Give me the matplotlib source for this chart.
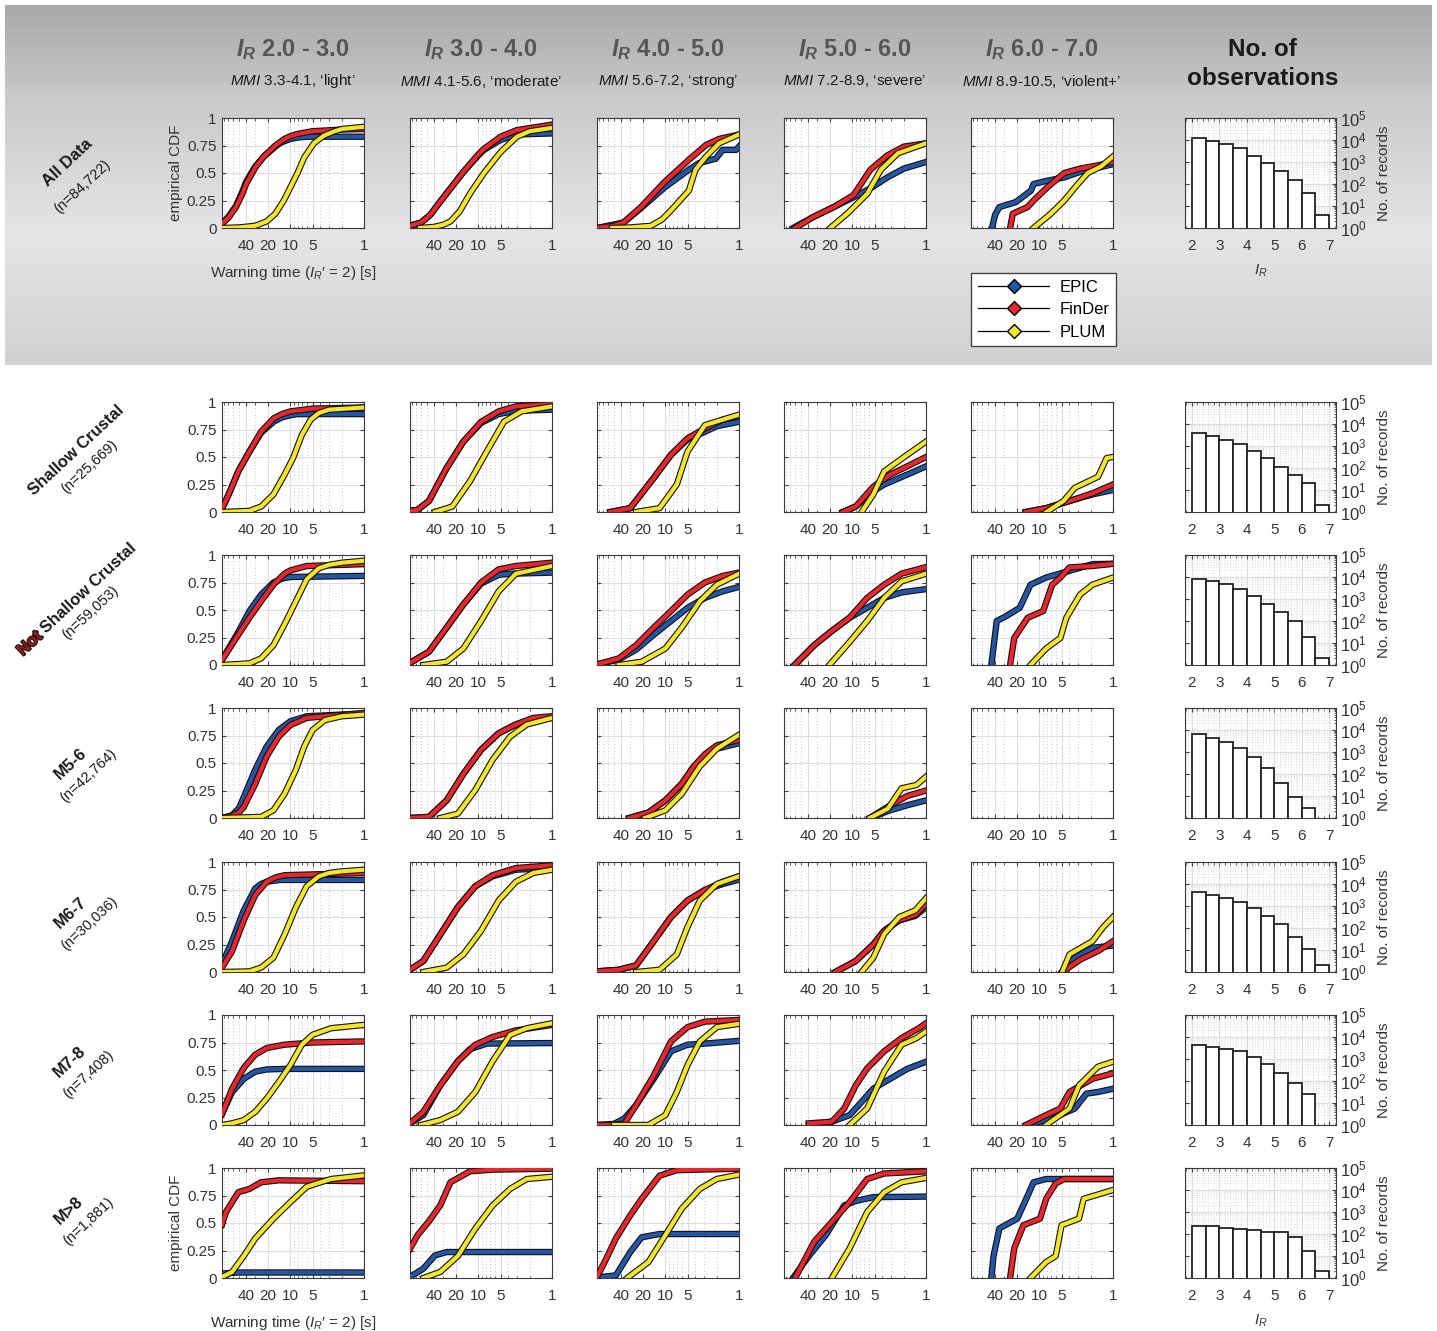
import numpy as np
import matplotlib
matplotlib.use("Agg")
import matplotlib.pyplot as plt
import matplotlib.patheffects as pe
from matplotlib.lines import Line2D
from matplotlib.ticker import LogLocator, NullFormatter, MultipleLocator, FixedLocator

plt.rcParams['font.family'] = ['Liberation Sans', 'DejaVu Sans']
plt.rcParams['mathtext.fontset'] = 'custom'
plt.rcParams['mathtext.rm'] = 'Liberation Sans'
plt.rcParams['mathtext.it'] = 'Liberation Sans:italic'
plt.rcParams['mathtext.bf'] = 'Liberation Sans:bold'
plt.rcParams['mathtext.bfit'] = 'Liberation Sans:italic:bold'

W, H = 1437, 1331

# ---------------- data (warning time [s], empirical CDF) ----------------
col_titles = ['2.0 - 3.0', '3.0 - 4.0', '4.0 - 5.0', '5.0 - 6.0', '6.0 - 7.0']
col_mmi = ['3.3-4.1, \u2018light\u2019', '4.1-5.6, \u2018moderate\u2019', '5.6-7.2, \u2018strong\u2019',
           '7.2-8.9, \u2018severe\u2019', '8.9-10.5, \u2018violent+\u2019']
model_names = ['EPIC', 'FinDer', 'PLUM']
model_colors = ['#2456a6', '#e8262b', '#f3e52b']

row_names = ['All Data', 'Shallow Crustal', 'Not Shallow Crustal', 'M5-6', 'M6-7', 'M7-8', 'M>8']
row_counts = ['(n=84,722)', '(n=25,669)', '(n=59,053)', '(n=42,764)', '(n=30,036)', '(n=7,408)', '(n=1,881)']

all_epic = [
    ([85, 70, 55, 45, 40, 30, 23, 16, 14, 12, 10, 8, 6, 1],
     [0.04, 0.1, 0.2, 0.33, 0.42, 0.56, 0.65, 0.74, 0.77, 0.79, 0.81, 0.822, 0.83, 0.83]),
    ([85, 60, 45, 33, 16, 10, 8.4, 6, 5, 3, 1], [0.02, 0.05, 0.12, 0.24, 0.51, 0.66, 0.71, 0.77, 0.8, 0.85, 0.86]),
    ([85, 37, 21.5, 10.2, 4.8, 3.5, 2.07, 1.67, 1.1, 1], [0, 0.05, 0.18, 0.37, 0.53, 0.59, 0.63, 0.71, 0.71, 0.74]),
    ([64, 34, 18, 9.6, 5.7, 3.35, 2, 1], [0, 0.1, 0.19, 0.28, 0.36, 0.46, 0.54, 0.6]),
    ([44, 40, 35, 21, 13, 12, 7.8, 4.6, 2.8, 1], [0, 0.12, 0.19, 0.235, 0.34, 0.4, 0.43, 0.46, 0.51, 0.58]),
]
all_finder = [
    ([85, 70, 55, 45, 40, 30, 23, 16, 12, 10, 8, 5, 2, 1],
     [0.04, 0.09, 0.19, 0.31, 0.4, 0.55, 0.65, 0.75, 0.81, 0.835, 0.855, 0.88, 0.895, 0.9]),
    ([85, 60, 45, 33, 16, 10, 8.4, 6, 5, 3, 1], [0.02, 0.05, 0.12, 0.24, 0.51, 0.67, 0.72, 0.79, 0.83, 0.89, 0.94]),
    ([85, 50, 37, 21.5, 10.2, 4.8, 2.8, 1.86, 1], [0, 0.02, 0.05, 0.19, 0.42, 0.62, 0.755, 0.81, 0.85]),
    ([60, 34, 18, 9.6, 5.7, 3.35, 2, 1], [0, 0.1, 0.19, 0.3, 0.53, 0.66, 0.74, 0.77]),
    ([25, 23, 14.5, 12, 7.8, 4.6, 2.8, 1.6, 1], [0, 0.13, 0.19, 0.25, 0.37, 0.5, 0.54, 0.57, 0.6]),
]
all_plum = [
    ([85, 50, 30, 21, 16, 12.3, 10, 8, 6.5, 4.8, 3.5, 2.5, 2, 1],
     [0, 0.005, 0.02, 0.06, 0.13, 0.25, 0.37, 0.5, 0.64, 0.77, 0.84, 0.88, 0.9, 0.92]),
    ([62, 40, 30, 24, 18, 12.8, 8.4, 5, 3, 2, 1], [0, 0.01, 0.03, 0.06, 0.15, 0.32, 0.5, 0.69, 0.83, 0.88, 0.91]),
    ([53, 30, 15.7, 11, 8.4, 4.8, 3.9, 2.8, 1.86, 1], [0, 0.005, 0.02, 0.08, 0.16, 0.34, 0.53, 0.65, 0.77, 0.85]),
    ([20, 11.8, 6.3, 4.1, 2.4, 1], [0, 0.13, 0.31, 0.53, 0.68, 0.77]),
    ([12, 7, 4.6, 3, 2.2, 1.45, 1], [0, 0.13, 0.25, 0.4, 0.5, 0.56, 0.65]),
]

sc_epic = [
    ([85, 70, 51, 36, 25, 17, 13, 10, 8, 1], [0.03, 0.15, 0.37, 0.55, 0.72, 0.82, 0.86, 0.88, 0.89, 0.89]),
    ([85, 67, 47, 27, 16, 9.2, 5.3, 3.1, 1], [0.01, 0.02, 0.1, 0.4, 0.64, 0.81, 0.89, 0.92, 0.93]),
    ([56, 30, 14.4, 8.4, 5, 2.9, 2, 1], [0, 0.035, 0.31, 0.52, 0.66, 0.73, 0.78, 0.82]),
    ([13.5, 9, 5.2, 3.7, 1.8, 1], [0, 0.05, 0.19, 0.25, 0.34, 0.415]),
    ([15.3, 8.1, 3.9, 1.9, 1], [0, 0.035, 0.1, 0.16, 0.2]),
]
sc_finder = [
    ([85, 70, 51, 36, 25, 17, 13, 10, 5, 1], [0.03, 0.15, 0.37, 0.55, 0.73, 0.85, 0.89, 0.915, 0.94, 0.95]),
    ([85, 67, 47, 27, 16, 9.2, 5.3, 3.1, 1], [0.01, 0.02, 0.1, 0.4, 0.64, 0.82, 0.915, 0.96, 0.98]),
    ([56, 30, 14.4, 8.4, 5, 2.9, 1.66, 1], [0, 0.035, 0.31, 0.52, 0.67, 0.76, 0.84, 0.87]),
    ([13.5, 9, 5.2, 3.07, 1.8, 1], [0, 0.05, 0.23, 0.34, 0.415, 0.5]),
    ([15.3, 8.1, 3.9, 1.9, 1], [0, 0.035, 0.1, 0.17, 0.25]),
]
sc_plum = [
    ([85, 36, 25, 17, 12, 9.2, 7, 5.3, 4.1, 3, 1], [0, 0.01, 0.05, 0.16, 0.34, 0.49, 0.7, 0.84, 0.9, 0.93, 0.95]),
    ([39, 22.6, 13, 7.7, 4.5, 2.6, 1], [0, 0.05, 0.28, 0.55, 0.82, 0.915, 0.96]),
    ([25, 12, 7, 5, 2.9, 1.66, 1], [0, 0.035, 0.25, 0.55, 0.79, 0.84, 0.885]),
    ([7.5, 5.2, 3.7, 1.8, 1], [0, 0.16, 0.37, 0.52, 0.64]),
    ([8, 4.7, 3.3, 1.6, 1.22, 1], [0, 0.1, 0.22, 0.32, 0.49, 0.5]),
]

nsc_epic = [
    ([85, 51, 36, 25, 17, 13, 10, 1], [0.046, 0.3, 0.49, 0.64, 0.75, 0.785, 0.8, 0.81]),
    ([85, 47, 27, 16, 9.2, 5.3, 3.5, 1], [0.02, 0.12, 0.34, 0.55, 0.74, 0.82, 0.83, 0.84]),
    ([85, 43, 25, 14.4, 8.4, 5, 2.9, 1.66, 1], [0.005, 0.05, 0.14, 0.275, 0.4, 0.52, 0.61, 0.67, 0.71]),
    ([61, 33, 19, 10.9, 6.3, 3.7, 2.15, 1], [0, 0.18, 0.31, 0.43, 0.52, 0.61, 0.66, 0.69]),
    ([45, 38, 29, 18.5, 13.2, 8.1, 3.9, 1.9, 1], [0, 0.4, 0.44, 0.52, 0.73, 0.795, 0.856, 0.917, 0.92]),
]
nsc_finder = [
    ([85, 51, 36, 25, 17, 12, 10, 6, 1], [0.046, 0.275, 0.43, 0.58, 0.73, 0.83, 0.86, 0.9, 0.917]),
    ([85, 47, 27, 16, 9.2, 5.3, 3.1, 1], [0.02, 0.12, 0.34, 0.55, 0.75, 0.87, 0.9, 0.93]),
    ([85, 43, 25, 14.4, 8.4, 5, 2.9, 1.66, 1], [0.005, 0.06, 0.18, 0.34, 0.49, 0.64, 0.75, 0.81, 0.84]),
    ([61, 33, 19, 10.9, 6.3, 3.7, 2.15, 1], [0, 0.18, 0.31, 0.43, 0.61, 0.73, 0.83, 0.89]),
    ([25, 22, 14.4, 8.9, 6.7, 5.2, 3.9, 1.9, 1], [0, 0.245, 0.43, 0.49, 0.73, 0.795, 0.887, 0.9, 0.92]),
]
nsc_plum = [
    ([85, 36, 25, 17, 12, 8.4, 6, 4.1, 3, 2, 1], [0, 0.015, 0.06, 0.18, 0.37, 0.58, 0.78, 0.88, 0.91, 0.93, 0.948]),
    ([56, 27, 16, 9.2, 5.3, 3.1, 1], [0, 0.03, 0.15, 0.4, 0.67, 0.83, 0.9]),
    ([43, 21, 10, 6, 3.4, 2, 1], [0, 0.03, 0.15, 0.34, 0.58, 0.73, 0.83]),
    ([20.5, 10.9, 6.3, 3.7, 2.15, 1], [0, 0.21, 0.4, 0.61, 0.76, 0.83]),
    ([13.2, 8.1, 5.2, 4.3, 2.8, 1.9, 1], [0, 0.15, 0.245, 0.43, 0.64, 0.73, 0.795]),
]

m56_epic = [
    ([85, 62, 50, 43, 30, 21, 14.4, 10, 6, 1], [0, 0.025, 0.09, 0.19, 0.44, 0.65, 0.8, 0.88, 0.925, 0.95]),
    ([85, 47, 27, 16, 9.2, 5.3, 3.1, 1.8, 1], [0, 0.01, 0.16, 0.4, 0.62, 0.77, 0.85, 0.9, 0.91]),
    ([31, 17, 10, 6, 4.1, 2.9, 2, 1], [0, 0.05, 0.16, 0.31, 0.47, 0.56, 0.63, 0.68]),
    ([5.8, 3.07, 1.8, 1], [0, 0.07, 0.116, 0.16]),
    ([], []),
]
m56_finder = [
    ([85, 62, 50, 43, 30, 21, 14.4, 10, 6, 1], [0, 0.02, 0.05, 0.1, 0.31, 0.56, 0.74, 0.845, 0.91, 0.954]),
    ([85, 47, 27, 16, 9.2, 5.3, 3.1, 1.8, 1], [0, 0.01, 0.16, 0.4, 0.62, 0.77, 0.85, 0.91, 0.925]),
    ([31, 17, 10, 6, 4.1, 2.9, 2, 1], [0, 0.05, 0.16, 0.31, 0.47, 0.58, 0.66, 0.71]),
    ([5.8, 3.07, 1.8, 1], [0, 0.116, 0.2, 0.25]),
    ([], []),
]
m56_plum = [
    ([85, 25, 17, 12, 8.4, 6.5, 5, 3.4, 2, 1], [0, 0.01, 0.07, 0.22, 0.44, 0.65, 0.8, 0.89, 0.925, 0.94]),
    ([33, 19, 11, 6.4, 3.7, 2.2, 1], [0, 0.04, 0.255, 0.53, 0.74, 0.85, 0.91]),
    ([19, 10, 6, 3.4, 2, 1], [0, 0.07, 0.22, 0.47, 0.63, 0.756]),
    ([5.8, 3.3, 2.15, 1.35, 1], [0, 0.085, 0.27, 0.3, 0.375]),
    ([], []),
]

m67_epic = [
    ([85, 62, 43, 30, 25, 21, 14, 1], [0.07, 0.28, 0.56, 0.76, 0.8, 0.82, 0.837, 0.837]),
    ([85, 56, 33, 19, 11, 6.4, 3.1, 1], [0.02, 0.1, 0.34, 0.59, 0.78, 0.87, 0.93, 0.945]),
    ([85, 43, 25, 14.4, 8.4, 5, 2.9, 1.66, 1], [0.006, 0.02, 0.06, 0.28, 0.5, 0.65, 0.745, 0.8, 0.84]),
    ([17, 9, 5.2, 3.7, 2.3, 1.4, 1], [0, 0.1, 0.25, 0.375, 0.47, 0.51, 0.59]),
    ([4.9, 3.3, 1.9, 1], [0, 0.13, 0.22, 0.24]),
]
m67_finder = [
    ([85, 62, 43, 30, 21, 16, 12, 1], [0.04, 0.19, 0.47, 0.7, 0.82, 0.86, 0.88, 0.9]),
    ([85, 56, 33, 19, 11, 6.4, 3.1, 1], [0.02, 0.1, 0.34, 0.59, 0.78, 0.88, 0.945, 0.97]),
    ([85, 43, 25, 14.4, 8.4, 5, 2.9, 1.66, 1], [0.006, 0.02, 0.06, 0.28, 0.5, 0.65, 0.745, 0.82, 0.87]),
    ([17, 9, 5.2, 3.7, 2.3, 1.4, 1], [0, 0.1, 0.25, 0.375, 0.47, 0.52, 0.62]),
    ([4.9, 2.75, 1.6, 1], [0, 0.115, 0.19, 0.28]),
]
m67_plum = [
    ([85, 36, 25, 17, 12, 8.4, 6, 4.1, 3, 2, 1], [0, 0.005, 0.04, 0.13, 0.34, 0.59, 0.78, 0.87, 0.9, 0.915, 0.93]),
    ([56, 27, 16, 9.2, 5.3, 3.1, 1.8, 1], [0, 0.04, 0.16, 0.375, 0.65, 0.82, 0.9, 0.93]),
    ([25, 12, 7, 5, 3.4, 2, 1], [0, 0.02, 0.16, 0.41, 0.65, 0.8, 0.87]),
    ([7.5, 5.2, 3.7, 2.3, 1.4, 1], [0, 0.13, 0.345, 0.5, 0.56, 0.67]),
    ([4.9, 3.9, 1.9, 1.35, 1], [0, 0.16, 0.28, 0.41, 0.5]),
]

m78_epic = [
    ([85, 62, 43, 30, 21, 12, 1], [0.1, 0.3, 0.42, 0.485, 0.505, 0.51, 0.51]),
    ([85, 56, 33, 19, 13, 7.7, 1], [0.015, 0.09, 0.36, 0.58, 0.69, 0.74, 0.745]),
    ([85, 50, 36, 25, 14.4, 8.4, 5, 2.9, 1], [0, 0.01, 0.06, 0.18, 0.42, 0.67, 0.73, 0.74, 0.765]),
    ([39, 19, 10.9, 7.5, 5.2, 3.07, 1.8, 1], [0, 0.03, 0.09, 0.21, 0.33, 0.42, 0.51, 0.575]),
    ([14.4, 6.7, 3.3, 2.3, 1.6, 1], [0, 0.06, 0.15, 0.285, 0.3, 0.33]),
]
m78_finder = [
    ([85, 62, 43, 30, 21, 12, 5, 1], [0.1, 0.33, 0.52, 0.64, 0.7, 0.73, 0.75, 0.76]),
    ([85, 56, 33, 19, 11, 6.4, 3.1, 1], [0.015, 0.12, 0.36, 0.58, 0.73, 0.8, 0.86, 0.91]),
    ([85, 50, 36, 25, 14.4, 8.4, 5, 2.9, 1], [0, 0, 0.015, 0.18, 0.45, 0.76, 0.89, 0.94, 0.955]),
    ([39, 19, 12.9, 9, 6.3, 3.7, 2.15, 1.25, 1], [0.015, 0.03, 0.15, 0.36, 0.515, 0.67, 0.79, 0.88, 0.925]),
    ([15.3, 8.1, 5.2, 3.9, 1.9, 1], [0, 0.09, 0.15, 0.3, 0.42, 0.47]),
]
m78_plum = [
    ([85, 62, 43, 30, 21, 14.4, 10, 7, 5, 2.8, 1], [0, 0.015, 0.045, 0.12, 0.24, 0.39, 0.545, 0.73, 0.82, 0.88, 0.91]),
    ([60, 33, 19, 11, 6.4, 3.7, 2.2, 1], [0, 0.045, 0.12, 0.3, 0.58, 0.82, 0.88, 0.925]),
    ([50, 17, 10, 7, 5, 3.4, 2, 1], [0, 0, 0.09, 0.3, 0.545, 0.76, 0.89, 0.92]),
    ([10.9, 6.3, 3.7, 2.15, 1.35, 1], [0, 0.15, 0.485, 0.73, 0.79, 0.85]),
    ([8.1, 3.9, 2.9, 1.6, 1], [0, 0.15, 0.36, 0.53, 0.575]),
]

m8_epic = [
    ([85, 51, 1], [0.04, 0.05, 0.05]),
    ([85, 56, 39, 27, 1], [0.01, 0.085, 0.205, 0.236, 0.236]),
    ([85, 47, 30, 21, 12, 1], [0.005, 0.024, 0.236, 0.37, 0.4, 0.4]),
    ([64, 39, 23, 12.9, 9, 5.2, 1], [0, 0.2, 0.39, 0.66, 0.7, 0.735, 0.74]),
    ([45, 42, 35, 20, 14.4, 12, 8.1, 1], [0, 0.2, 0.45, 0.54, 0.75, 0.87, 0.9, 0.9]),
]
m8_finder = [
    ([85, 75, 51, 36, 25, 14.4, 1], [0.485, 0.6, 0.78, 0.81, 0.87, 0.888, 0.88]),
    ([85, 67, 47, 33, 24, 13, 6.4, 1], [0.267, 0.39, 0.515, 0.66, 0.87, 0.97, 0.985, 0.994]),
    ([85, 67, 47, 30, 21, 12, 7, 1], [0.01, 0.145, 0.36, 0.57, 0.72, 0.93, 0.98, 0.994]),
    ([60, 33, 19, 10.9, 6.3, 3.7, 1], [0, 0.33, 0.51, 0.69, 0.9, 0.95, 0.97]),
    ([25, 22, 16.5, 9.8, 8.1, 6, 4.6, 1], [0, 0.27, 0.48, 0.54, 0.72, 0.86, 0.9, 0.9]),
]
m8_plum = [
    ([85, 62, 43, 30, 17, 10, 6, 2.8, 1], [0.01, 0.055, 0.2, 0.36, 0.54, 0.69, 0.83, 0.9, 0.933]),
    ([56, 33, 19, 11, 6.4, 3.7, 2.2, 1], [0, 0.055, 0.2, 0.45, 0.66, 0.81, 0.9, 0.92]),
    ([33, 17, 10, 6, 3.4, 2, 1], [0, 0.145, 0.39, 0.63, 0.81, 0.9, 0.94]),
    ([19, 10.9, 6.3, 3.7, 2.15, 1], [0, 0.27, 0.6, 0.78, 0.87, 0.91]),
    ([13.2, 8.1, 6, 5, 2.9, 2.5, 1], [0, 0.145, 0.2, 0.48, 0.54, 0.72, 0.8]),
]

# number of records per I_R bin (2.0-2.5, 2.5-3.0, ..., 6.5-7.0)
ir_left_edges = [2.0, 2.5, 3.0, 3.5, 4.0, 4.5, 5.0, 5.5, 6.0, 6.5]
hist_all = [12000, 9300, 6600, 4300, 1900, 900, 380, 147, 39, 4]
hist_sc = [4000, 3000, 1900, 1170, 615, 295, 110, 47, 20, 2]
hist_nsc = [8000, 6300, 4700, 3000, 1350, 590, 265, 99, 19, 2]
hist_m56 = [6300, 4250, 3000, 1580, 615, 187, 37, 9, 3, 0]
hist_m67 = [4450, 3300, 2340, 1580, 790, 357, 155, 41, 11, 2]
hist_m78 = [4250, 3650, 2850, 2340, 1290, 615, 230, 85, 27, 0]
hist_m8 = [230, 240, 195, 174, 145, 127, 118, 75, 17, 2]

rows = [
    (all_epic, all_finder, all_plum, hist_all),
    (sc_epic, sc_finder, sc_plum, hist_sc),
    (nsc_epic, nsc_finder, nsc_plum, hist_nsc),
    (m56_epic, m56_finder, m56_plum, hist_m56),
    (m67_epic, m67_finder, m67_plum, hist_m67),
    (m78_epic, m78_finder, m78_plum, hist_m78),
    (m8_epic, m8_finder, m8_plum, hist_m8),
]

# ---------------- layout (pixels) ----------------
cdf_left = [222, 410, 597, 784, 971]
cdf_w = 142
hist_left, hist_w = 1185, 151
row_top = [118, 402, 555, 708, 862, 1015, 1168]
ax_h = 110

# rotated row label centers (bold name, count)
name_pos = [(68, 163), (76, 450), None, (71, 764), (71, 913), (70, 1062), (69, 1210)]
count_pos = [(82, 187), (89, 467), (90, 613), (88, 776), (89, 924), (88, 1074), (88, 1221)]
ROT = 43

TXT = '#333333'


def fx(x):
    return x / W


def fy(y):
    return 1 - y / H


def add_ax(left, top, w, h):
    return fig.add_axes([fx(left), fy(top + h), w / W, h / H])


def style_box(ax):
    for s in ax.spines.values():
        s.set_color('#3a3a3a')
        s.set_linewidth(0.8)
    ax.tick_params(which='both', direction='in', top=True, right=True,
                   color='#444444', labelcolor=TXT, labelsize=11)
    ax.tick_params(which='major', length=3)
    ax.tick_params(which='minor', length=1.8)


fig = plt.figure(figsize=(W / 100, H / 100), dpi=100)
fig.patch.set_facecolor('white')

# grey gradient band behind the first row
bg = fig.add_axes([0, 0, 1, 1], zorder=-10)
bg.set_xlim(0, W)
bg.set_ylim(H, 0)
bg.axis('off')
yy = np.arange(5, 366)
shade = np.interp(yy, [5, 100, 235, 365], [168, 202, 229, 209]) / 255.0
grad = np.repeat(shade[:, None, None], 3, axis=2)
grad[:, :, 2] = np.clip(grad[:, :, 2] + 0.008, 0, 1)
bg.imshow(grad, extent=(5, 1432, 365, 5), aspect='auto', interpolation='bilinear')

stroke = [pe.Stroke(linewidth=4.6, foreground='#111111'), pe.Normal()]

for r, (epic, finder, plum, hist) in enumerate(rows):
    top = row_top[r]
    for c in range(5):
        ax = add_ax(cdf_left[c], top, cdf_w, ax_h)
        ax.set_facecolor('white')
        ax.set_xscale('log')
        ax.set_xlim(85, 1)
        ax.set_ylim(0, 1)
        ax.xaxis.set_major_locator(FixedLocator([40, 20, 10, 5, 1]))
        ax.set_xticklabels(['40', '20', '10', '5', '1'])
        ax.xaxis.set_minor_locator(LogLocator(base=10, subs=np.arange(2, 10)))
        ax.xaxis.set_minor_formatter(NullFormatter())
        ax.set_yticks([0, 0.25, 0.5, 0.75, 1])
        if c == 0:
            ax.set_yticklabels(['0', '0.25', '0.5', '0.75', '1'])
        else:
            ax.set_yticklabels([])
        ax.grid(True, which='major', color='#dedede', lw=0.8, ls='-')
        ax.grid(True, which='minor', axis='x', color='#b5b5b5', lw=0.6, ls=(0, (1, 3)))
        ax.set_axisbelow(True)
        style_box(ax)
        ax.tick_params(axis='x', pad=8)
        ax.tick_params(axis='y', pad=4)
        for k, series in enumerate((epic, finder, plum)):
            t, p = series[c]
            if len(t) == 0:
                continue
            ax.plot(t, p, color=model_colors[k], lw=3.0, solid_joinstyle='round',
                    path_effects=stroke, zorder=3 + k)
        if c == 0 and r in (0, 6):
            ax.set_ylabel('empirical CDF', fontsize=11, color=TXT, labelpad=3)
            ax.set_xlabel('Warning time ($I_R$\u2032 = 2) [s]', fontsize=11, color=TXT, labelpad=8)
        if r == 0 and c == 4:
            handles = [Line2D([0], [0], color='black', lw=0.9, marker='D', markersize=7.5,
                              markerfacecolor=model_colors[k], markeredgecolor='black')
                       for k in range(3)]
            fig.legend(handles, model_names, loc='upper left',
                       bbox_to_anchor=(fx(971), fy(273)), frameon=True, fancybox=False,
                       edgecolor='#444444', framealpha=1, fontsize=12, handlelength=4.3,
                       borderaxespad=0, borderpad=0.4, labelspacing=0.45, handletextpad=0.6)

    # histogram of records
    hx = add_ax(hist_left, top, hist_w, ax_h)
    hx.set_facecolor('white')
    hx.set_yscale('log')
    lefts = [e for e, n in zip(ir_left_edges, hist) if n > 0]
    vals = [n for n in hist if n > 0]
    hx.bar(lefts, vals, width=0.5, align='edge', color='white', edgecolor='#222222',
           linewidth=1.3, zorder=3)
    hx.set_xlim(1.75, 7.25)
    hx.set_ylim(1, 1e5)
    hx.set_xticks([2, 3, 4, 5, 6, 7])
    hx.xaxis.set_minor_locator(MultipleLocator(0.2))
    hx.yaxis.set_major_locator(LogLocator(base=10, numticks=10))
    hx.yaxis.set_minor_locator(LogLocator(base=10, subs=np.arange(2, 10), numticks=20))
    hx.yaxis.set_minor_formatter(NullFormatter())
    hx.yaxis.tick_right()
    hx.yaxis.set_label_position('right')
    hx.grid(True, which='major', color='#dedede', lw=0.8)
    hx.grid(True, which='minor', color='#c4c4c4', lw=0.5, ls=(0, (1, 3)))
    hx.set_axisbelow(True)
    style_box(hx)
    hx.tick_params(axis='x', pad=8)
    hx.tick_params(axis='y', pad=3, left=True, labelsize=12)
    hx.set_ylabel('No. of records', fontsize=11, color=TXT, labelpad=7)
    if r in (0, 6):
        hx.set_xlabel('$I_R$', fontsize=11, color=TXT, labelpad=7)

# column headers
for c in range(5):
    cx = cdf_left[c] + cdf_w / 2
    fig.text(fx(cx), fy(50), r'$\mathbfit{I}_{\mathbfit{R}}$ ' + col_titles[c], ha='center', va='center',
             fontsize=17, fontweight='bold', color='#555555')
    fig.text(fx(cx), fy(81), '$MMI$ ' + col_mmi[c], ha='center', va='center',
             fontsize=11, color='#1a1a1a')
fig.text(fx(hist_left + hist_w / 2 + 2), fy(64), 'No. of\nobservations', ha='center', va='center',
         fontsize=17.5, fontweight='bold', color='#1a1a1a', linespacing=1.32)

# row labels (rotated)
for r in range(7):
    if r == 2:
        ax_x, ax_y = 40, 634
        fig.text(fx(ax_x), fy(ax_y), 'Not', ha='right', va='center', rotation=ROT,
                 rotation_mode='anchor', fontsize=12, fontweight='bold', color='#a3191c',
                 path_effects=[pe.Stroke(linewidth=1.6, foreground='#111111'), pe.Normal()])
        fig.text(fx(ax_x), fy(ax_y), ' Shallow Crustal', ha='left', va='center', rotation=ROT,
                 rotation_mode='anchor', fontsize=12, fontweight='bold', color='#1a1a1a')
    else:
        nx, ny = name_pos[r]
        fig.text(fx(nx), fy(ny), row_names[r], ha='center', va='center', rotation=ROT,
                 rotation_mode='anchor', fontsize=12, fontweight='bold', color='#1a1a1a')
    cx, cy = count_pos[r]
    fig.text(fx(cx), fy(cy), row_counts[r], ha='center', va='center', rotation=ROT,
             rotation_mode='anchor', fontsize=10.5, color='#1a1a1a')

fig.savefig('out.png', dpi=100)
